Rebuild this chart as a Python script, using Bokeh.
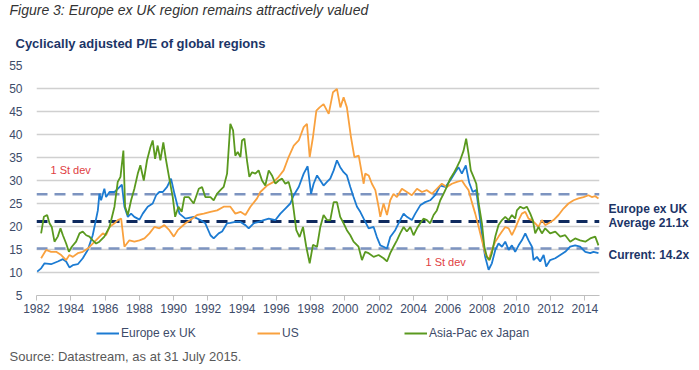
from bokeh.plotting import figure
from bokeh.layouts import column, row
from bokeh.models import (Range1d, FixedTicker, Span, Label, Legend, LegendItem)
from bokeh.embed import file_html
from bokeh.resources import INLINE

# ---------------- data ----------------
eu_years = [1982.04, 1982.27, 1982.47, 1982.85, 1983.24, 1983.54, 1983.73, 1983.92, 1984.12, 1984.41,
            1984.70, 1984.99, 1985.28, 1985.58, 1985.67, 1985.77, 1985.96, 1986.06, 1986.26, 1986.55,
            1986.74, 1986.98, 1987.13, 1987.33, 1987.52, 1987.71, 1988.01, 1988.20, 1988.49, 1988.78,
            1988.98, 1989.17, 1989.37, 1989.62, 1989.85, 1990.05, 1990.34, 1990.69, 1991.17, 1991.56,
            1991.85, 1992.15, 1992.34, 1992.63, 1992.83, 1993.12, 1993.31, 1993.60, 1993.90, 1994.19,
            1994.38, 1994.67, 1994.97, 1995.26, 1995.55, 1995.94, 1996.23, 1996.52, 1996.81, 1997.01,
            1997.30, 1997.59, 1997.82, 1998.02, 1998.17, 1998.37, 1998.56, 1998.75, 1998.95, 1999.14,
            1999.34, 1999.53, 1999.72, 1999.92, 2000.11, 2000.31, 2000.50, 2000.70, 2000.89, 2001.09,
            2001.38, 2001.67, 2001.86, 2002.06, 2002.25, 2002.45, 2002.64, 2002.93, 2003.22, 2003.42,
            2003.61, 2003.90, 2004.10, 2004.39, 2004.68, 2004.97, 2005.26, 2005.56, 2005.85, 2006.14,
            2006.43, 2006.62, 2006.82, 2007.05, 2007.25, 2007.45, 2007.65, 2007.85, 2008.05, 2008.18,
            2008.38, 2008.57, 2008.77, 2008.96, 2009.16, 2009.35, 2009.55, 2009.74, 2009.93, 2010.13,
            2010.32, 2010.52, 2010.71, 2010.91, 2011.00, 2011.20, 2011.39, 2011.59, 2011.74, 2011.97,
            2012.27, 2012.56, 2012.85, 2013.14, 2013.43, 2013.72, 2014.02, 2014.31, 2014.50, 2014.79]
eu_pe = [10.2, 10.9, 12.0, 11.8, 12.4, 12.9, 12.4, 11.1, 11.6, 11.8,
         13.1, 14.9, 18.1, 23.5, 27.1, 25.7, 28.2, 26.4, 27.5, 27.5,
         28.2, 29.1, 24.3, 22.1, 22.8, 22.1, 21.5, 22.8, 24.3, 25.0,
         26.8, 27.5, 27.5, 28.6, 30.4, 27.1, 22.8, 21.7, 22.1, 21.4,
         20.7, 18.1, 17.4, 18.5, 18.9, 20.7, 20.8, 21.0, 21.0, 20.3,
         19.6, 20.7, 21.0, 21.4, 21.7, 21.4, 22.8, 23.9, 25.0, 26.8,
         28.6, 31.5, 33.1, 27.1, 29.3, 31.1, 30.0, 28.9, 29.7, 30.4,
         32.2, 34.4, 32.9, 31.8, 31.1, 28.6, 26.4, 24.3, 23.2, 21.7,
         19.6, 19.9, 17.7, 15.9, 15.6, 15.2, 17.7, 19.2, 21.4, 22.8,
         22.1, 21.4, 22.8, 24.6, 25.3, 25.7, 26.8, 28.9, 28.6, 30.0,
         31.8, 32.9, 31.5, 33.3, 29.5, 27.5, 27.9, 22.5, 16.5, 13.4,
         10.6, 12.0, 14.9, 16.3, 15.6, 16.7, 14.9, 15.9, 14.5, 15.9,
         17.0, 18.5, 17.0, 15.6, 12.7, 13.4, 12.4, 13.8, 11.3, 12.7,
         13.1, 13.8, 14.5, 15.6, 15.9, 15.6, 14.5, 14.2, 14.5, 14.2]

us_years = [1982.27, 1982.56, 1982.85, 1983.15, 1983.44, 1983.73, 1983.92, 1984.12, 1984.41, 1984.70,
            1984.99, 1985.28, 1985.58, 1985.87, 1986.06, 1986.26, 1986.55, 1986.74, 1986.94, 1987.13,
            1987.42, 1987.71, 1988.01, 1988.30, 1988.59, 1988.88, 1989.17, 1989.46, 1989.75, 1990.01,
            1990.24, 1990.69, 1990.98, 1991.37, 1991.76, 1992.15, 1992.54, 1992.92, 1993.31, 1993.60,
            1993.90, 1994.19, 1994.48, 1994.87, 1995.06, 1995.45, 1995.84, 1996.13, 1996.42, 1996.71,
            1997.01, 1997.30, 1997.59, 1997.78, 1997.94, 1998.13, 1998.33, 1998.52, 1998.75, 1999.05,
            1999.30, 1999.53, 1999.73, 1999.92, 2000.11, 2000.35, 2000.55, 2000.80, 2001.09, 2001.18,
            2001.38, 2001.57, 2001.77, 2001.96, 2002.06, 2002.25, 2002.45, 2002.64, 2002.83, 2003.03,
            2003.32, 2003.61, 2003.90, 2004.20, 2004.49, 2004.78, 2005.07, 2005.36, 2005.65, 2005.94,
            2006.24, 2006.53, 2006.82, 2007.01, 2007.21, 2007.40, 2007.60, 2007.80, 2007.99, 2008.18,
            2008.38, 2008.57, 2008.77, 2008.96, 2009.16, 2009.35, 2009.55, 2009.74, 2009.93, 2010.13,
            2010.32, 2010.52, 2010.71, 2010.91, 2011.10, 2011.29, 2011.49, 2011.68, 2011.88, 2012.17,
            2012.46, 2012.75, 2013.04, 2013.34, 2013.63, 2013.92, 2014.21, 2014.40, 2014.60, 2014.79]
us_pe = [13.1, 14.9, 14.5, 14.5, 13.8, 12.7, 13.8, 13.4, 14.2, 14.5,
         15.2, 16.3, 17.4, 18.5, 18.1, 19.9, 20.7, 21.4, 21.7, 15.6,
         17.0, 16.7, 17.0, 17.4, 18.5, 19.9, 19.6, 20.3, 19.2, 17.8,
         19.2, 20.7, 21.4, 22.5, 22.8, 23.2, 23.5, 24.3, 24.3, 22.8,
         23.2, 22.5, 24.3, 26.1, 27.5, 28.9, 29.7, 30.8, 32.2, 35.1,
         37.6, 38.7, 41.6, 42.3, 35.1, 39.4, 45.2, 45.9, 46.6, 44.5,
         49.2, 49.9, 45.9, 48.1, 45.9, 39.4, 35.1, 35.4, 29.3, 31.5,
         31.1, 29.3, 27.9, 24.3, 22.1, 25.0, 22.5, 25.7, 27.1, 26.4,
         28.2, 27.5, 26.8, 28.2, 27.5, 27.9, 27.1, 28.2, 29.3, 28.6,
         29.3, 29.7, 30.0, 28.9, 27.9, 25.3, 22.8, 19.9, 17.0, 14.2,
         12.7, 14.9, 16.7, 17.8, 18.9, 19.9, 19.6, 18.1, 19.6, 21.4,
         22.8, 23.2, 21.7, 21.4, 20.7, 19.9, 21.4, 20.3, 20.7, 21.4,
         22.5, 23.9, 25.0, 25.7, 26.1, 26.4, 26.8, 26.4, 26.6, 26.1]

ap_years = [1982.27, 1982.43, 1982.62, 1982.76, 1982.89, 1983.05, 1983.24, 1983.40, 1983.54, 1983.73,
            1983.89, 1984.06, 1984.31, 1984.51, 1984.70, 1984.90, 1985.09, 1985.28, 1985.48, 1985.67,
            1985.96, 1986.26, 1986.55, 1986.74, 1986.90, 1987.07, 1987.17, 1987.33, 1987.52, 1987.71,
            1987.91, 1988.06, 1988.26, 1988.45, 1988.65, 1988.78, 1988.92, 1989.07, 1989.23, 1989.40,
            1989.56, 1989.75, 1989.95, 1990.09, 1990.28, 1990.47, 1990.63, 1990.88, 1991.17, 1991.47,
            1991.66, 1991.85, 1992.15, 1992.34, 1992.53, 1992.73, 1992.92, 1993.12, 1993.31, 1993.47,
            1993.60, 1993.74, 1993.90, 1993.99, 1994.13, 1994.28, 1994.42, 1994.58, 1994.77, 1994.96,
            1995.16, 1995.35, 1995.55, 1995.74, 1995.94, 1996.13, 1996.33, 1996.52, 1996.71, 1996.87,
            1997.01, 1997.16, 1997.35, 1997.55, 1997.74, 1997.94, 1998.13, 1998.37, 1998.56, 1998.75,
            1998.95, 1999.14, 1999.34, 1999.53, 1999.72, 1999.92, 2000.11, 2000.31, 2000.50, 2000.79,
            2000.99, 2001.18, 2001.38, 2001.67, 2001.96, 2002.25, 2002.45, 2002.64, 2002.83, 2003.03,
            2003.22, 2003.42, 2003.61, 2003.81, 2004.00, 2004.20, 2004.39, 2004.58, 2004.78, 2004.97,
            2005.17, 2005.36, 2005.56, 2005.75, 2005.94, 2006.14, 2006.33, 2006.53, 2006.72, 2006.92,
            2007.07, 2007.21, 2007.34, 2007.50, 2007.66, 2007.80, 2007.99, 2008.13, 2008.28, 2008.44,
            2008.57, 2008.77, 2008.96, 2009.16, 2009.35, 2009.55, 2009.74, 2009.93, 2010.03, 2010.23,
            2010.42, 2010.61, 2010.81, 2010.96, 2011.10, 2011.29, 2011.49, 2011.68, 2011.97, 2012.27,
            2012.56, 2012.85, 2013.14, 2013.43, 2013.72, 2014.02, 2014.31, 2014.60, 2014.79]
ap_pe = [18.5, 22.1, 22.5, 20.7, 19.9, 16.7, 17.8, 19.6, 18.1, 16.3,
         14.5, 15.6, 16.7, 18.5, 18.9, 18.1, 17.8, 17.0, 16.3, 16.7,
         17.8, 19.9, 24.3, 29.7, 30.8, 36.5, 24.3, 22.5, 25.7, 28.2,
         31.5, 33.3, 30.0, 34.4, 37.3, 38.7, 34.7, 37.6, 34.4, 38.3,
         34.4, 30.4, 26.4, 22.1, 24.3, 23.2, 26.4, 26.4, 25.0, 28.2,
         28.6, 26.4, 26.4, 25.7, 27.1, 27.9, 28.6, 31.5, 42.3, 40.9,
         35.4, 36.2, 35.1, 38.7, 39.1, 34.4, 30.8, 31.8, 31.5, 32.2,
         30.0, 28.9, 32.2, 31.1, 29.3, 30.0, 30.4, 29.3, 29.7, 27.5,
         23.5, 19.2, 17.7, 19.9, 15.6, 12.0, 16.0, 15.6, 19.9, 22.5,
         21.4, 21.4, 25.3, 25.3, 22.1, 20.7, 19.2, 18.1, 16.7, 15.6,
         12.7, 14.5, 14.2, 13.4, 13.8, 13.1, 12.4, 14.2, 15.6, 17.0,
         18.5, 19.9, 18.9, 19.9, 18.1, 19.6, 20.7, 21.7, 21.4, 20.7,
         22.5, 23.5, 25.7, 27.1, 28.6, 30.4, 31.5, 32.9, 34.4, 36.5,
         39.1, 35.8, 32.2, 30.8, 29.3, 25.0, 20.7, 15.6, 13.4, 12.7,
         14.2, 17.8, 20.3, 21.4, 22.1, 21.4, 22.5, 21.7, 23.5, 24.3,
         23.9, 24.3, 22.8, 21.4, 18.5, 19.9, 18.5, 19.6, 18.5, 18.9,
         17.8, 18.1, 16.7, 17.4, 17.0, 16.7, 17.4, 17.8, 15.9]

eu_average = 21.1
eu_plus_1sd = 27.0
eu_minus_1sd = 15.2
eu_current = 14.2

year_ticks = [1982, 1984, 1986, 1988, 1990, 1992, 1994, 1996, 1998, 2000,
              2002, 2004, 2006, 2008, 2010, 2012, 2014]
pe_ticks = [5, 10, 15, 20, 25, 30, 35, 40, 45, 50, 55]

series_names = ["Europe ex UK", "US", "Asia-Pac ex Japan"]

# ---------------- styling ----------------
FONT = "Liberation Sans"
C_EU = "#1c7bd2"
C_US = "#f9a13e"
C_AP = "#5a991f"
NAVY = "#1c3567"
AXIS_TXT = "#3d4b69"


def blank(w, h):
    f = figure(width=w, height=h, output_backend="svg", toolbar_location=None,
               x_axis_type=None, y_axis_type=None,
               x_range=Range1d(0, w), y_range=Range1d(0, h),
               min_border=0, min_border_left=0, min_border_right=0,
               min_border_top=0, min_border_bottom=0)
    f.outline_line_color = None
    f.background_fill_color = "white"
    f.border_fill_color = "white"
    return f


def lab(fig, text, x, y, size, color, style="normal"):
    fig.add_layout(Label(text=text, x=x, y=y, x_units="screen", y_units="screen",
                         text_font=FONT, text_font_size=size, text_color=color,
                         text_font_style=style, text_baseline="alphabetic", text_align="left"))


# ---------------- header ----------------
header = blank(699, 52)
lab(header, "Figure 3: Europe ex UK region remains attractively valued", 9, 43, "14px", "#333333", "italic")
lab(header, "Cyclically adjusted P/E of global regions", 15, 9.5, "13px", NAVY, "bold")

# ---------------- main chart ----------------
p = figure(width=608, height=270, output_backend="svg", toolbar_location=None,
           x_range=Range1d(1982, 2014.85), y_range=Range1d(5, 55),
           min_border_left=36, min_border_right=9, min_border_top=13, min_border_bottom=27)
p.outline_line_color = None
p.background_fill_color = "white"
p.border_fill_color = "white"

p.xgrid.visible = False
p.ygrid.grid_line_color = "#d0d0d0"
p.ygrid.grid_line_width = 1.5

p.xaxis.ticker = FixedTicker(ticks=year_ticks)
p.xaxis.axis_line_color = "#bfbfbf"
p.xaxis.axis_line_width = 1.2
p.xaxis.major_tick_line_color = "#bfbfbf"
p.xaxis.major_tick_out = 5
p.xaxis.major_tick_in = 0
p.xaxis.minor_tick_line_color = None
p.xaxis.major_label_standoff = 3
p.xaxis.major_label_text_font = FONT
p.xaxis.major_label_text_font_size = "12px"
p.xaxis.major_label_text_color = AXIS_TXT

p.yaxis.ticker = FixedTicker(ticks=pe_ticks)
p.yaxis.axis_line_color = None
p.yaxis.major_tick_line_color = None
p.yaxis.minor_tick_line_color = None
p.yaxis.major_label_standoff = 8
p.yaxis.major_label_text_font = FONT
p.yaxis.major_label_text_font_size = "12px"
p.yaxis.major_label_text_color = AXIS_TXT

for loc, col, w in [(eu_plus_1sd, "#7d94c0", 2.5), (eu_minus_1sd, "#7d94c0", 2.5),
                    (eu_average, "#0f2a5e", 3)]:
    p.add_layout(Span(location=loc, dimension="width", line_color=col, line_width=w,
                      line_dash="11 7", level="underlay"))

p.line(eu_years, eu_pe, line_color=C_EU, line_width=1.8)
p.line(us_years, us_pe, line_color=C_US, line_width=1.8)
p.line(ap_years, ap_pe, line_color=C_AP, line_width=1.8)

lab(p, "1 St dev", 14, 125.5, "11px", "#e0403f")
lab(p, "1 St dev", 389, 33.5, "11px", "#e0403f")

# ---------------- right-hand annotation (frame aligned with main chart) ----------------
side = blank(91, 270)
lab(side, "Europe ex UK", 0, 86.5, "12px", NAVY, "bold")
lab(side, "Average %.1fx" % eu_average, 0, 73, "12px", NAVY, "bold")
lab(side, "Current: %.1fx" % eu_current, 0, 41, "12px", NAVY, "bold")

# ---------------- footer: legend + source ----------------
footer = blank(699, 48)
colors = [C_EU, C_US, C_AP]
for name, col, lx in zip(series_names, colors, [96, 257, 404]):
    r = footer.line([float("nan")], [float("nan")], line_color=col, line_width=2)
    lg = Legend(items=[LegendItem(label=name, renderers=[r])], location=(lx, 30),
                orientation="horizontal", padding=0, margin=0, spacing=0,
                glyph_width=23, glyph_height=12, label_standoff=2,
                background_fill_alpha=0, border_line_alpha=0,
                label_text_font=FONT, label_text_font_size="12px",
                label_text_color=AXIS_TXT)
    footer.add_layout(lg)
lab(footer, "Source: Datastream, as at 31 July 2015.", 9, 14, "13px", "#595959")

layout = column(header, row(p, side), footer)
open("out.html", "w").write(file_html(layout, INLINE))
